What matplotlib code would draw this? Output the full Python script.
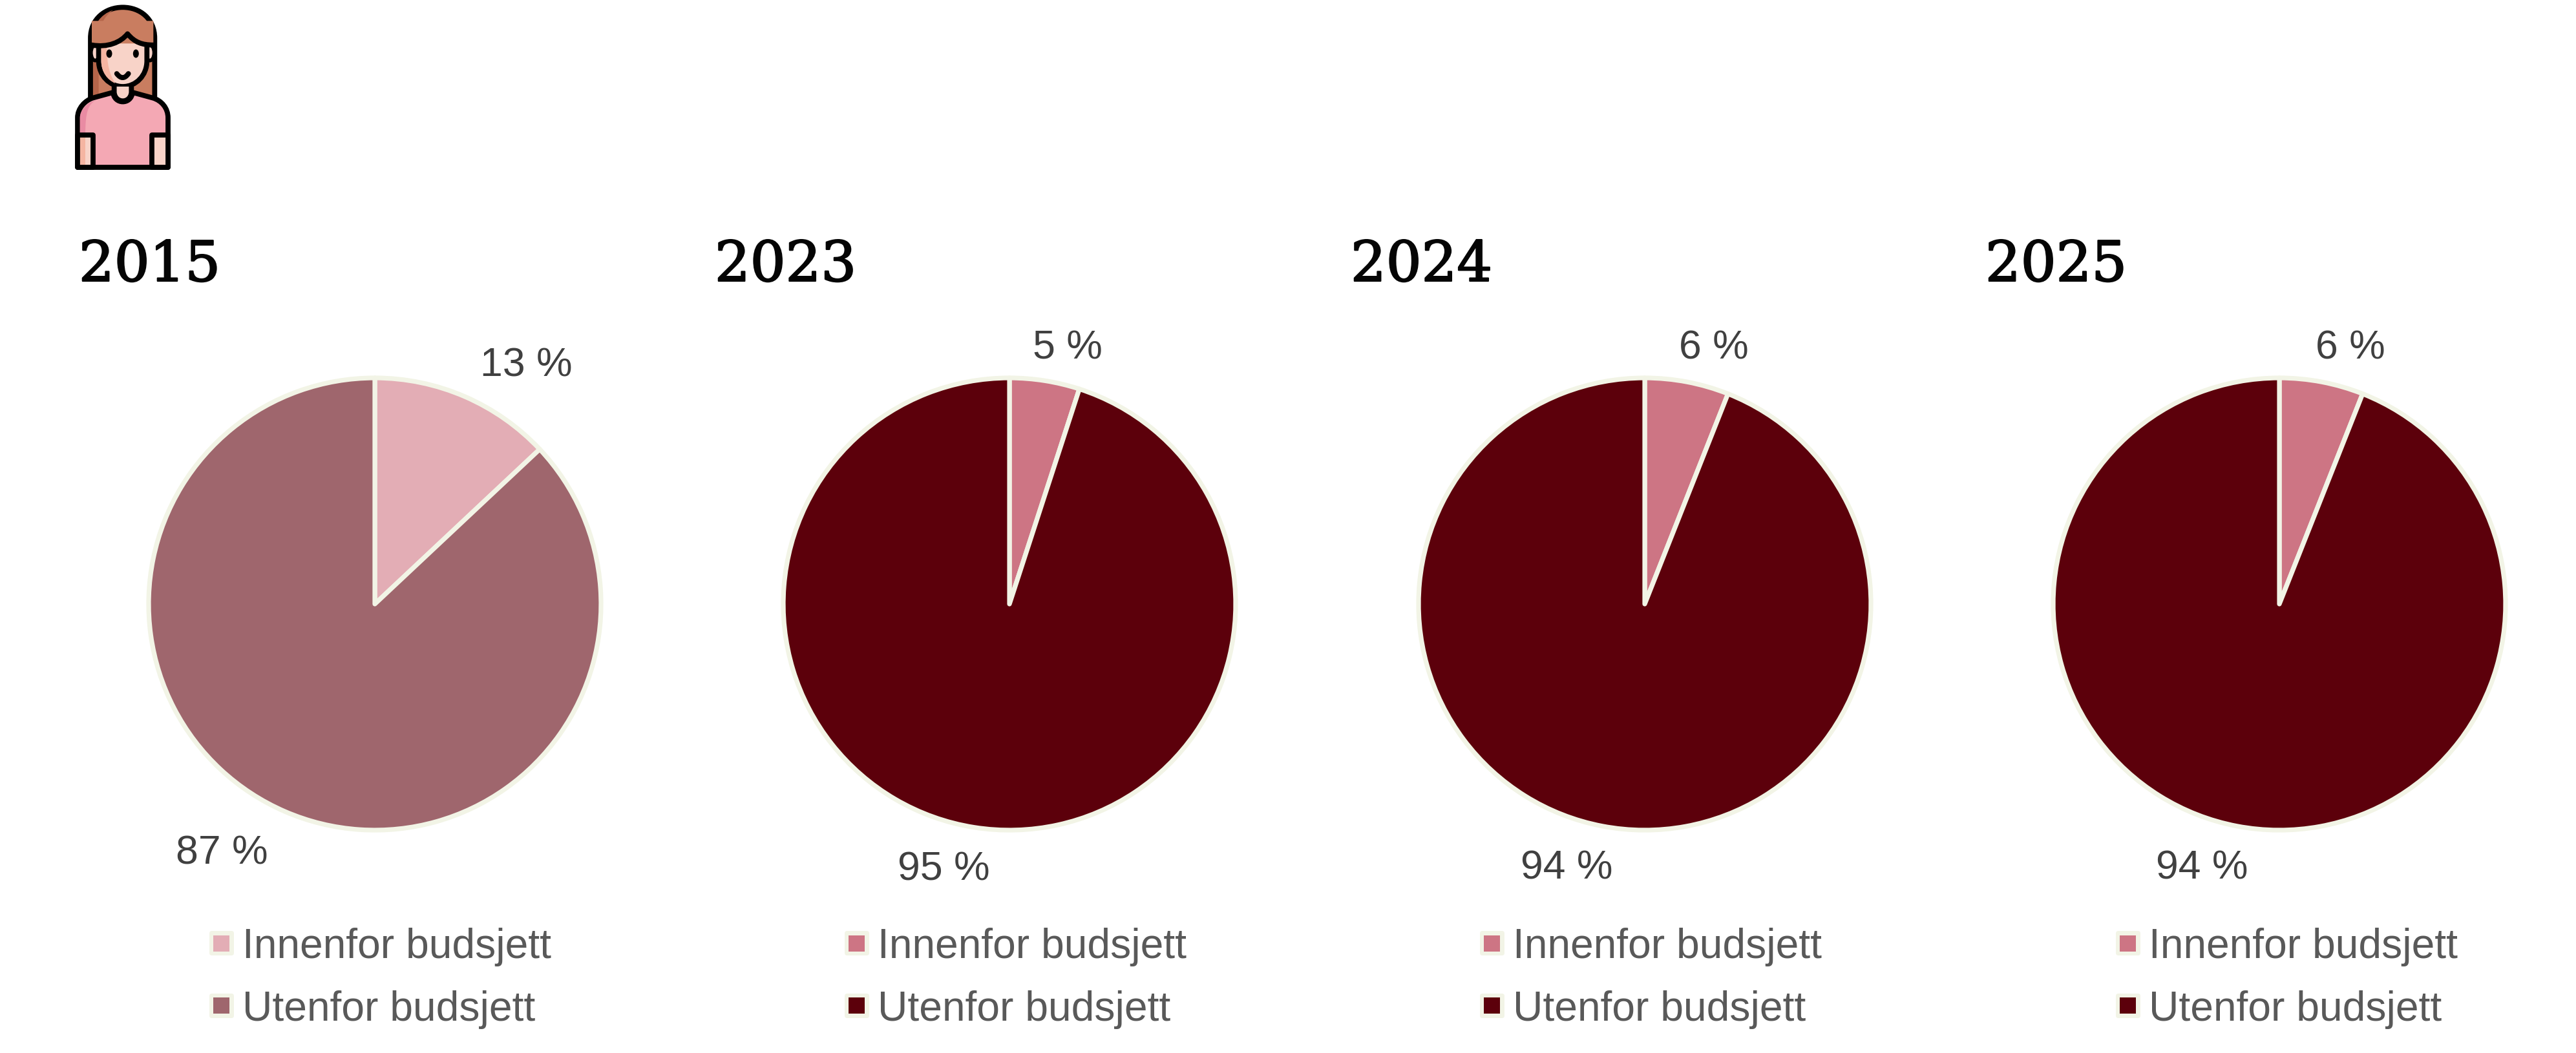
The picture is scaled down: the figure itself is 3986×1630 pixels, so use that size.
import matplotlib
matplotlib.use("Agg")
import matplotlib.pyplot as plt
import matplotlib.patheffects as pe
from matplotlib.patches import FancyBboxPatch, Rectangle, Ellipse, PathPatch
from matplotlib.path import Path

W, H = 3987, 1631
years = ["2015", "2023", "2024", "2025"]
inside_pct = [13, 5, 6, 6]
outside_pct = [87, 95, 94, 94]
series_names = ["Innenfor budsjett", "Utenfor budsjett"]
inside_colors = ["#E3ADB5", "#CD7584", "#CD7584", "#CD7584"]
outside_colors = ["#9F666D", "#5C000B", "#5C000B", "#5C000B"]

EDGE = "#F2F4E6"
centers_x = [580, 1562, 2545, 3527]
center_y = 936
radius = 350
title_x = [122, 1106, 2090, 3072]
title_base = 436
in_label_xy = [(814, 566), (1652, 539), (2652, 539), (3637, 539)]
out_label_xy = [(343, 1321), (1460, 1346), (2424, 1344), (3407, 1344)]
legend_marker_x = [343, 1326, 2309, 3293]
legend_y = [1461, 1558]

fig = plt.figure(figsize=(W / 100, H / 100), dpi=100, facecolor="white")
plt.rcParams["font.family"] = ["Liberation Sans", "DejaVu Sans"]

ov = fig.add_axes([0, 0, 1, 1], zorder=5)
ov.set_xlim(0, W)
ov.set_ylim(H, 0)
ov.axis("off")
ov.patch.set_alpha(0)

for i, year in enumerate(years):
    ax = fig.add_axes([(centers_x[i] - radius) / W, 1 - (center_y + radius) / H,
                       2 * radius / W, 2 * radius / H])
    wedges, _ = ax.pie([inside_pct[i], outside_pct[i]],
                       colors=[inside_colors[i], outside_colors[i]],
                       startangle=90, counterclock=False, radius=1,
                       wedgeprops=dict(edgecolor=EDGE, linewidth=5.2, joinstyle="round"))
    for w in wedges:
        w.set_clip_on(False)
    ax.set_xlim(-1, 1)
    ax.set_ylim(-1, 1)

    ov.text(title_x[i], title_base, year, family="DejaVu Serif", fontsize=62,
            color="#050505", ha="left", va="baseline",
            path_effects=[pe.withStroke(linewidth=1.6, foreground="#050505")])
    ov.text(*in_label_xy[i], f"{inside_pct[i]} %", fontsize=45, color="#404040",
            ha="center", va="center")
    ov.text(*out_label_xy[i], f"{outside_pct[i]} %", fontsize=45, color="#404040",
            ha="center", va="center")

    for y, name, col in zip(legend_y, series_names, (inside_colors[i], outside_colors[i])):
        mx = legend_marker_x[i]
        ov.add_patch(FancyBboxPatch((mx - 16, y - 16), 32, 32, boxstyle="round,pad=3,rounding_size=4",
                                    fc=EDGE, ec="none"))
        ov.add_patch(Rectangle((mx - 12.5, y - 12.5), 25, 25, fc=col, ec="none"))
        ov.text(mx + 32, y - 1, name, fontsize=46.2, color="#595959", ha="left", va="center_baseline")

# ---- person icon (decoration, drawn in pixel coordinates) ----
K = "black"
LW = 5.6
HAIR, HAIR_D = "#C97D60", "#B5654A"
SKIN, SKIN_D = "#F8D3C8", "#F5B5A2"
SHIRT, SHIRT_D = "#F4A8B4", "#E98BA3"


def P(x, y):
    return (60 + x / 3.0, y / 3.0)


def shape(items, fc, ec=K, z=1, lw=LW):
    verts, codes = [], []
    for code, *pts in items:
        for p in pts:
            verts.append(P(*p))
            codes.append(code)
    ov.add_patch(PathPatch(Path(verts, codes), fc=fc, ec=ec, lw=lw, zorder=z,
                           joinstyle="round", capstyle="round"))


M, L, C3, C4 = Path.MOVETO, Path.LINETO, Path.CURVE3, Path.CURVE4

# hair
shape([(M, (240, 470)), (L, (240, 180)), (C4, (240, 90), (310, 37), (390, 37)),
       (C4, (470, 37), (538, 90), (538, 180)), (L, (538, 470))], HAIR, z=1)
shape([(M, (252, 450)), (L, (252, 180)), (C4, (252, 120), (285, 70), (345, 50)),
       (C4, (300, 80), (278, 130), (278, 195)), (L, (278, 450))], HAIR_D, ec="none", z=1.1)
# ears
for ex in (262, 516):
    ov.add_patch(Ellipse(P(ex, 248), 13, 24, fc=SKIN, ec=K, lw=4, zorder=2))
# face
shape([(M, (278, 205)), (L, (278, 285)), (C4, (278, 355), (330, 405), (390, 405)),
       (C4, (450, 405), (502, 355), (502, 285)), (L, (502, 205))], SKIN, z=3)
shape([(M, (290, 215)), (L, (290, 285)), (C4, (290, 340), (320, 375), (355, 390)),
       (C4, (330, 350), (316, 310), (316, 215))], SKIN_D, ec="none", z=3.1)
# fringe
shape([(M, (246, 212)), (C4, (320, 225), (380, 200), (412, 160)),
       (C4, (445, 200), (480, 212), (532, 212)), (L, (532, 100)), (L, (246, 100))], HAIR, ec="none", z=3.2)
shape([(M, (246, 212)), (C4, (320, 225), (380, 200), (412, 160)),
       (C4, (445, 200), (480, 212), (532, 212))], "none", z=3.3)
# shirt
shape([(M, (180, 780)), (L, (180, 550)), (C4, (180, 505), (215, 470), (250, 458)),
       (L, (345, 432)), (C4, (350, 490), (430, 490), (435, 432)),
       (L, (530, 458)), (C4, (570, 470), (600, 505), (600, 550)),
       (L, (600, 780)), (Path.CLOSEPOLY, (180, 780))], SHIRT, z=4)
shape([(M, (191, 630)), (L, (191, 550)), (C4, (191, 515), (225, 480), (262, 470)),
       (C4, (230, 490), (216, 520), (216, 630))], SHIRT_D, ec="none", z=4.1)
# neck
shape([(M, (350, 405)), (L, (350, 432)), (C4, (355, 485), (425, 485), (430, 432)), (L, (430, 405))], SKIN, z=4.2)
# arms
for a, b in ((180, 253), (525, 600)):
    ov.add_patch(Rectangle(P(a, 630), (b - a) / 3.0, 150 / 3.0, fc=SKIN, ec=K, lw=LW, zorder=5, joinstyle="round"))
ov.add_patch(Rectangle(P(191, 642), 25 / 3.0, 126 / 3.0, fc=SKIN_D, ec="none", zorder=5.1))
# eyes and mouth
for ex in (327, 451):
    ov.add_patch(Ellipse(P(ex, 252), 9, 13, fc=K, ec="none", zorder=6))
shape([(M, (362, 345)), (C3, (390, 382), (416, 345))], "none", z=6)

fig.savefig("out.png", dpi=100, facecolor="white")
